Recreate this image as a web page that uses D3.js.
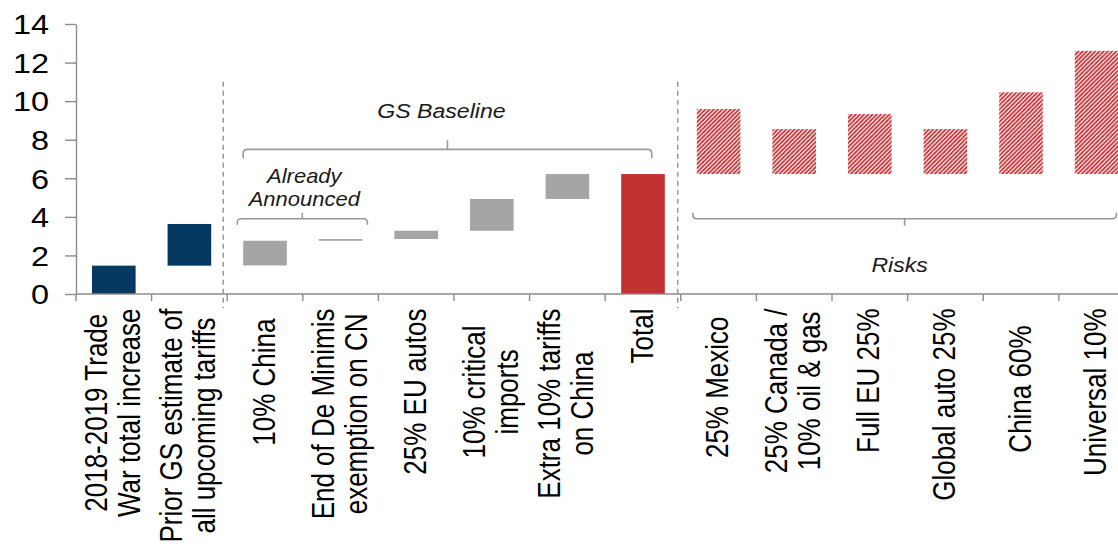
<!DOCTYPE html>
<html>
<head>
<meta charset="utf-8">
<script src="https://cdn.jsdelivr.net/npm/d3@7"></script>
<style>
  html, body { margin: 0; padding: 0; background: #fff; }
  svg { display: block; font-family: "Liberation Sans", Arial, sans-serif; }
</style>
</head>
<body>
<svg id="chart" width="1118" height="548"></svg>
<script>
// ---- Data -------------------------------------------------------------
// Category labels ("\n" marks a line break in the axis label)
const categories = [
  "2018-2019 Trade\nWar total increase",
  "Prior GS estimate of\nall upcoming tariffs",
  "10% China",
  "End of De Minimis\nexemption on CN",
  "25% EU autos",
  "10% critical\nimports",
  "Extra 10% tariffs\non China",
  "Total",
  "25% Mexico",
  "25% Canada /\n10% oil & gas",
  "Full EU 25%",
  "Global auto 25%",
  "China 60%",
  "Universal 10%"
];
// Floating bars: lower and upper edge of each bar (pp)
const barLow  = [0,    1.47, 1.48, 2.76, 2.85, 3.28, 4.93, 0,    6.22, 6.22, 6.22, 6.22, 6.22,  6.22];
const barHigh = [1.47, 3.63, 2.76, 2.85, 3.28, 4.93, 6.22, 6.22, 9.59, 8.55, 9.33, 8.55, 10.46, 12.61];
// Bar group: history / baseline step / baseline total / risk scenario
const barGroup = ["history", "history", "step", "step", "step", "step", "step", "total",
                  "risk", "risk", "risk", "risk", "risk", "risk"];
const yTicks = [0, 2, 4, 6, 8, 10, 12, 14];

// ---- Layout -----------------------------------------------------------
const W = 1118, H = 548;
const svg = d3.select("#chart");
const axisColor = "#8c8c8c";
const fills = { history: "#053962", step: "#a5a5a5", total: "#c0312f", risk: "url(#riskHatch)" };

const x = d3.scaleBand()
  .domain(categories)
  .range([76, 1134.4])
  .paddingInner(0.423)
  .paddingOuter(0.2115);
const y = d3.scaleLinear().domain([0, 14]).range([294, 24]);
const bw = x.bandwidth();
const step = x.step();
const boundary = i => x.range()[0] + i * step;   // left edge of category slot i
const cx = c => x(c) + bw / 2;

// Diagonal hatch used for the risk scenarios
const hatch = 4.2;
const pat = svg.append("defs").append("pattern")
  .attr("id", "riskHatch")
  .attr("patternUnits", "userSpaceOnUse")
  .attr("width", hatch).attr("height", hatch);
pat.append("rect").attr("width", hatch).attr("height", hatch).attr("fill", "#fff");
pat.append("path")
  .attr("d", `M${-hatch/4},${hatch/4}L${hatch/4},${-hatch/4}M0,${hatch}L${hatch},0M${hatch*0.75},${hatch*1.25}L${hatch*1.25},${hatch*0.75}`)
  .attr("stroke", "#c53236").attr("stroke-width", 1.8);

svg.append("rect").attr("width", W).attr("height", H).attr("fill", "#fff");

// ---- Bars -------------------------------------------------------------
svg.append("g").selectAll("rect")
  .data(categories)
  .join("rect")
  .attr("x", d => x(d))
  .attr("width", bw)
  .attr("y", (d, i) => y(Math.max(barLow[i], barHigh[i])))
  .attr("height", (d, i) => Math.abs(y(barLow[i]) - y(barHigh[i])))
  .attr("fill", (d, i) => fills[barGroup[i]]);

// ---- Y axis -----------------------------------------------------------
const yAxis = svg.append("g")
  .attr("transform", `translate(${x.range()[0]},0)`)
  .call(d3.axisLeft(y).tickValues(yTicks).tickSize(11).tickSizeOuter(0).tickFormat(d3.format("d")));
yAxis.select(".domain").attr("stroke", axisColor).attr("stroke-width", 1.4);
yAxis.selectAll(".tick line").attr("stroke", axisColor).attr("stroke-width", 1.4);
yAxis.selectAll(".tick text")
  .attr("x", null).attr("dy", "0.36em")
  .attr("transform", "translate(-27,0) scale(1.2,1)")
  .attr("text-anchor", "end")
  .attr("fill", "#000")
  .style("font-size", "27px")
  .style("font-family", "'Liberation Sans', Arial, sans-serif");

// ---- X axis (ticks at category boundaries) ----------------------------
const xAxis = svg.append("g").attr("stroke", axisColor).attr("stroke-width", 1.4);
xAxis.append("line").attr("x1", x.range()[0]).attr("x2", W).attr("y1", y(0)).attr("y2", y(0));
xAxis.selectAll("line.tk")
  .data(d3.range(categories.length + 1))
  .join("line")
  .attr("class", "tk")
  .attr("x1", i => boundary(i)).attr("x2", i => boundary(i))
  .attr("y1", y(0)).attr("y2", y(0) + 7);

// ---- Category labels (rotated, wrapped lines centred on each other) ---
const labelScale = 1.18, lineGap = 33, labelEnd = 308.5;
const labelPush = { 2: 10, 5: 17, 8: 8, 12: 17 };
categories.forEach((c, i) => {
  const lines = c.split("\n");
  const g = svg.append("g")
    .attr("transform", `translate(${cx(c)},${labelEnd + (labelPush[i] || 0)}) scale(${labelScale},1) rotate(-90)`);
  const texts = lines.map((ln, k) => g.append("text")
    .attr("y", (9.5 + (k - (lines.length - 1) / 2) * lineGap) / labelScale)
    .attr("font-size", 26)
    .attr("fill", "#000")
    .text(ln));
  const longest = d3.max(texts, t => t.node().getComputedTextLength());
  texts.forEach(t => t.attr("text-anchor", "middle").attr("x", -longest / 2));
});

// ---- Section dividers -------------------------------------------------
[2, 8].forEach((b, k) => {
  svg.append("line")
    .attr("x1", boundary(b) - (k ? 3 : 4)).attr("x2", boundary(b) - (k ? 3 : 4))
    .attr("y1", y(11)).attr("y2", y(0) + 14)
    .attr("stroke", "#8a8a8a").attr("stroke-width", 1.3)
    .attr("stroke-dasharray", "5,4");
});

// ---- Brackets and group titles ---------------------------------------
function bracket(x0, x1, yLine, hook, tick) {
  const r = 4 * Math.sign(hook);
  const xm = (x0 + x1) / 2;
  svg.append("path")
    .attr("d", `M${x0},${yLine + hook}L${x0},${yLine + r}Q${x0},${yLine} ${x0 + 4},${yLine}` +
               `L${x1 - 4},${yLine}Q${x1},${yLine} ${x1},${yLine + r}L${x1},${yLine + hook}` +
               `M${xm},${yLine}L${xm},${yLine - tick}`)
    .attr("fill", "none").attr("stroke", "#999").attr("stroke-width", 1.6);
  return xm;
}
function title(lines, xc, y0, size, gap) {
  lines.forEach((ln, k) => {
    svg.append("text")
      .attr("transform", `translate(${xc},${y0 + k * gap}) scale(1.1,1)`)
      .attr("text-anchor", "middle")
      .attr("font-size", size).attr("font-style", "italic")
      .attr("fill", "#1a1a1a")
      .text(ln);
  });
}
const cat = i => categories[i];
const gsMid = bracket(x(cat(2)), x(cat(7)) + 0.7 * bw, y(7.5), 9, 9);
title(["GS Baseline"], gsMid - 6, 118, 21, 0);
const aaMid = bracket(x(cat(2)) - 6, x(cat(3)) + bw + 5, y(3.9), 6, 6);
title(["Already", "Announced"], aaMid + 2, 183, 20, 23);
const rkMid = bracket(x(cat(8)) - 4, x(cat(13)) + bw - 2, y(3.9), -6, -7);
title(["Risks"], rkMid - 5, 272, 21, 0);
</script>
</body>
</html>
